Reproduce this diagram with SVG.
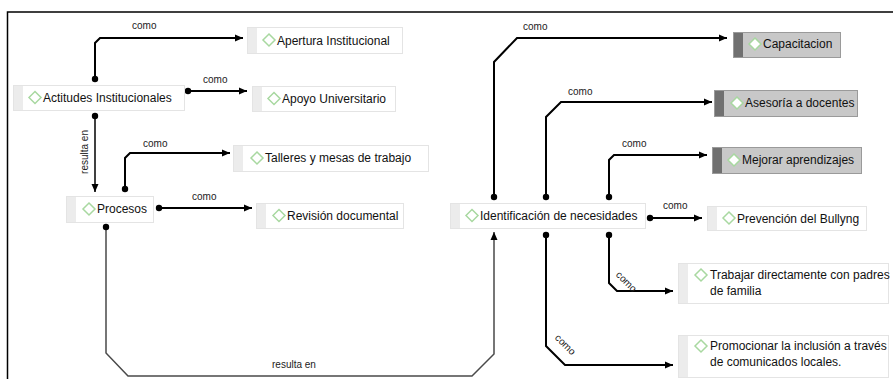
<svg xmlns="http://www.w3.org/2000/svg" width="893" height="379" viewBox="0 0 893 379">
<style>
.t{font-family:"Liberation Sans",Arial,sans-serif;font-size:12px;fill:#111}
.l{font-family:"Liberation Sans",Arial,sans-serif;font-size:10px;fill:#222}
.box{fill:#fff;stroke:#e4e4e4;stroke-width:1}
.stripe{fill:#ececec}
.gbox{fill:#c8c8c8;stroke:#9a9a9a;stroke-width:1}
.gstripe{fill:#707070}
.dia{fill:#fff;stroke:#a8d8a0;stroke-width:1.5}
.c{fill:none;stroke:#000;stroke-width:2;marker-start:url(#dot);marker-end:url(#arr)}
.cg{fill:none;stroke:#4a4a4a;stroke-width:1.5;marker-start:url(#dot);marker-end:url(#arr)}
</style>
<defs>
<marker id="arr" markerUnits="userSpaceOnUse" markerWidth="10" markerHeight="10" refX="8" refY="4" orient="auto"><path d="M0,0.5 L8,4 L0,7.5 z" fill="#000"/></marker>
<marker id="dot" markerUnits="userSpaceOnUse" markerWidth="8" markerHeight="8" refX="4" refY="4"><circle cx="4" cy="4" r="3.2" fill="#000"/></marker>
</defs>
<rect width="893" height="379" fill="#fff"/>
<path d="M7.5,379 V12 H893" fill="none" stroke="#000" stroke-width="1.5"/>

<g id="connectors">
<path class="c" d="M95,79 V43 L100,38 H243"/>
<path class="c" d="M188,91 H247"/>
<path class="cg" d="M95,116 V192" style="stroke:#000"/>
<path class="c" d="M125,189 V158 L130,153 H230"/>
<path class="c" d="M159,208 H252"/>
<path class="cg" d="M106,227 V353 L128,376 H472 L494,354 V232"/>
<path class="c" d="M494,197 V62 L517,38 H727"/>
<path class="c" d="M546,197 V117 L561,102 H712"/>
<path class="c" d="M609,197 V160 L614,155 H707"/>
<path class="c" d="M650,218 H702"/>
<path class="c" d="M609,235 V283 L617,291 H673"/>
<path class="c" d="M546,235 V346 L565,365 H673"/>
<text class="l" x="132" y="29">como</text>
<text class="l" x="203" y="83">como</text>
<text class="l" transform="translate(88,152) rotate(-90)" text-anchor="middle">resulta en</text>
<text class="l" x="143" y="147">como</text>
<text class="l" x="192" y="199.5">como</text>
<text class="l" x="272" y="368">resulta en</text>
<text class="l" x="523" y="29.5">como</text>
<text class="l" x="568" y="95">como</text>
<text class="l" x="622" y="147">como</text>
<text class="l" x="663" y="209">como</text>
<text class="l" transform="translate(624,284) rotate(45)" text-anchor="middle">como</text>
<text class="l" transform="translate(563,347) rotate(45)" text-anchor="middle">como</text>
</g>

<g id="n-actitudes">
<rect class="box" x="13.5" y="85.5" width="171" height="25"/><rect class="stripe" x="14" y="86" width="9" height="24"/>
<polygon class="dia" points="35,91.5 41,97.5 35,103.5 29,97.5"/>
<text class="t" x="43" y="102">Actitudes Institucionales</text>
</g>
<g id="n-apertura">
<rect class="box" x="247.5" y="27.5" width="155" height="26"/><rect class="stripe" x="248" y="28" width="9" height="25"/>
<polygon class="dia" points="269,34 275,40 269,46 263,40"/>
<text class="t" x="277" y="44.5">Apertura Institucional</text>
</g>
<g id="n-apoyo">
<rect class="box" x="252.5" y="86.5" width="143" height="25"/><rect class="stripe" x="253" y="87" width="9" height="24"/>
<polygon class="dia" points="274,92.5 280,98.5 274,104.5 268,98.5"/>
<text class="t" x="282" y="103">Apoyo Universitario</text>
</g>
<g id="n-procesos">
<rect class="box" x="66.5" y="196.5" width="87" height="26"/><rect class="stripe" x="67" y="197" width="9" height="25"/>
<polygon class="dia" points="89,203 95,209 89,215 83,209"/>
<text class="t" x="97" y="213">Procesos</text>
</g>
<g id="n-talleres">
<rect class="box" x="233.5" y="145.5" width="195" height="26"/><rect class="stripe" x="234" y="146" width="9" height="25"/>
<polygon class="dia" points="257,152 263,158 257,164 251,158"/>
<text class="t" x="265" y="162">Talleres y mesas de trabajo</text>
</g>
<g id="n-revision">
<rect class="box" x="256.5" y="203.5" width="147" height="25"/><rect class="stripe" x="257" y="204" width="9" height="24"/>
<polygon class="dia" points="279,209.5 285,215.5 279,221.5 273,215.5"/>
<text class="t" x="287" y="220">Revisión documental</text>
</g>
<g id="n-identificacion">
<rect class="box" x="450.5" y="203.5" width="195" height="25"/><rect class="stripe" x="451" y="204" width="9" height="24"/>
<polygon class="dia" points="472,209.5 478,215.5 472,221.5 466,215.5"/>
<text class="t" x="480" y="220">Identificación de necesidades</text>
</g>
<g id="n-capacitacion">
<rect class="gbox" x="733.5" y="32.5" width="107" height="25"/><rect class="gstripe" x="734" y="33" width="9" height="24"/>
<polygon class="dia" points="755,38 761,44 755,50 749,44"/>
<text class="t" x="763" y="48">Capacitacion</text>
</g>
<g id="n-asesoria">
<rect class="gbox" x="714.5" y="90.5" width="143" height="26"/><rect class="gstripe" x="715" y="91" width="9" height="25"/>
<polygon class="dia" points="737,97 743,103 737,109 731,103"/>
<text class="t" x="745" y="107">Asesoría a docentes</text>
</g>
<g id="n-mejorar">
<rect class="gbox" x="712.5" y="147.5" width="149" height="26"/><rect class="gstripe" x="713" y="148" width="9" height="25"/>
<polygon class="dia" points="734,154 740,160 734,166 728,160"/>
<text class="t" x="742" y="164">Mejorar aprendizajes</text>
</g>
<g id="n-prevencion">
<rect class="box" x="707.5" y="206.5" width="159" height="24"/><rect class="stripe" x="708" y="207" width="9" height="23"/>
<polygon class="dia" points="729,212 735,218 729,224 723,218"/>
<text class="t" x="737" y="222.5">Prevención del Bullyng</text>
</g>
<g id="n-trabajar">
<rect class="box" x="678.5" y="263.5" width="210" height="40"/><rect class="stripe" x="679" y="264" width="9" height="39"/>
<polygon class="dia" points="701,269 707,275 701,281 695,275"/>
<text class="t" x="710" y="279">Trabajar directamente con padres</text>
<text class="t" x="710" y="295">de familia</text>
</g>
<g id="n-promocionar">
<rect class="box" x="678.5" y="335.5" width="210" height="42"/><rect class="stripe" x="679" y="336" width="9" height="41"/>
<polygon class="dia" points="701,340 707,346 701,352 695,346"/>
<text class="t" x="710" y="350">Promocionar la inclusión a través</text>
<text class="t" x="710" y="366">de comunicados locales.</text>
</g>
</svg>
